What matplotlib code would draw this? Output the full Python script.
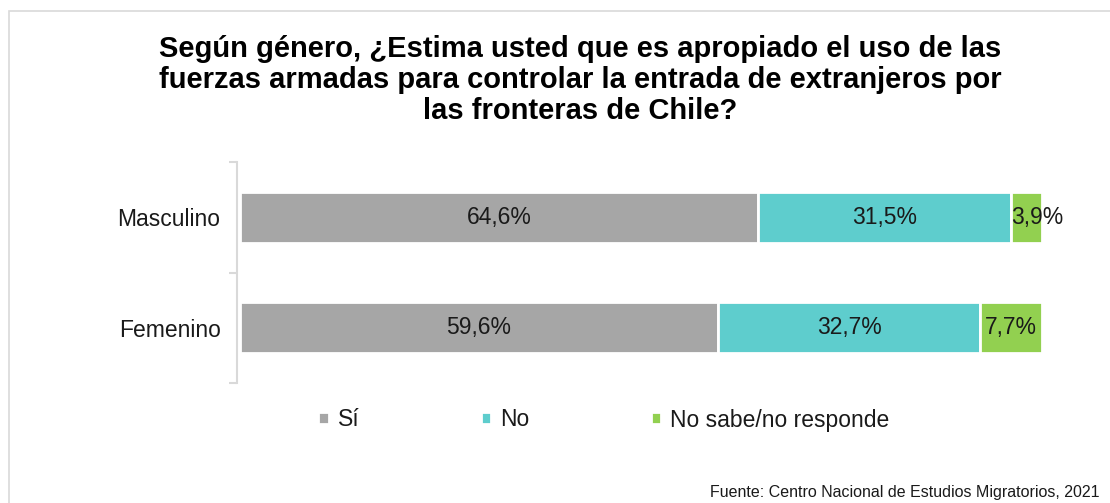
import matplotlib
matplotlib.use("Agg")
import matplotlib.pyplot as plt
from matplotlib.patches import Rectangle

plt.rcParams['font.family'] = ['Liberation Sans', 'DejaVu Sans']

categories = ["Femenino", "Masculino"]
series_names = ["Sí", "No", "No sabe/no responde"]
si = [59.6, 64.6]
no = [32.7, 31.5]
nsnr = [7.7, 3.9]
colors = ["#a6a6a6", "#5ecdcd", "#92d050"]
title = ("Según género, ¿Estima usted que es apropiado el uso de las\n"
         "fuerzas armadas para controlar la entrada de extranjeros por\n"
         "las fronteras de Chile?")
source = "Fuente: Centro Nacional de Estudios Migratorios, 2021"

W, H = 1110, 503
fig = plt.figure(figsize=(W / 100, H / 100), dpi=100)
fig.patch.set_facecolor("white")

# outer border
fig.patches.append(Rectangle((9 / W, -0.05), 1.1, 1 - 11 / H + 0.05, transform=fig.transFigure,
                             fill=False, edgecolor="#d9d9d9", linewidth=1.2))

FS = 16.5
ax = fig.add_axes([240 / W, 120 / H, 802 / W, 221 / H])
y = list(range(len(categories)))
left = [0] * len(categories)
for name, vals, c in zip(series_names, [si, no, nsnr], colors):
    bars = ax.barh(y, vals, left=left, height=0.46, color=c, edgecolor="white",
                   linewidth=2.0, label=name)
    for b, v in zip(bars, vals):
        lab = f"{v:.1f}%".replace(".", ",")
        yc = b.get_y() + b.get_height() / 2
        if b.get_width() < 6:
            ax.text(b.get_x(), yc, lab, ha="left", va="center", fontsize=FS, color="#1a1a1a")
        else:
            ax.text(b.get_x() + b.get_width() / 2, yc, lab, ha="center", va="center",
                    fontsize=FS, color="#1a1a1a")
    left = [l + v for l, v in zip(left, vals)]

ax.set_xlim(0, 100)
ax.set_ylim(-0.5, len(categories) - 0.5)
ax.set_yticks(y)
ax.set_yticklabels(categories)
ax.set_yticks([-0.5, 0.5, 1.5], minor=True)
ax.tick_params(axis="y", which="major", length=0, pad=12, labelsize=FS, labelcolor="#1a1a1a")
ax.tick_params(axis="y", which="minor", length=6, color="#d9d9d9", width=1.5)
ax.set_xticks([])
for s in ["top", "right", "bottom"]:
    ax.spines[s].set_visible(False)
ax.spines["left"].set_color("#d9d9d9")
ax.spines["left"].set_linewidth(1.5)
ax.spines["left"].set_position(("outward", 2))

fig.text(580 / W, 1 - 80 / H, title, ha="center", va="center", fontsize=21,
         fontweight="bold", color="#000000", linespacing=1.15)

handles, labels = ax.get_legend_handles_labels()
leg = fig.legend(handles, labels, loc="center", bbox_to_anchor=(604 / W, 1 - 420 / H),
                 ncol=3, frameon=False, fontsize=FS, handlelength=0.45, handleheight=0.45,
                 handletextpad=0.4, columnspacing=5.3)
for t in leg.get_texts():
    t.set_color("#1a1a1a")

fig.text(1100 / W, 1 - 493 / H, source, ha="right", va="center", fontsize=11.5, color="#1a1a1a")

fig.savefig("out.png", dpi=100)
